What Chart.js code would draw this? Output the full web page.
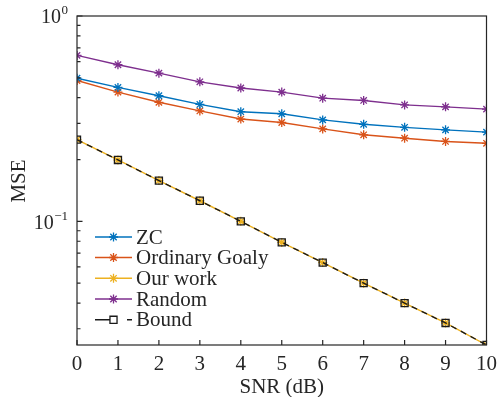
<!DOCTYPE html>
<html>
<head>
<meta charset="utf-8">
<script src="https://cdn.jsdelivr.net/npm/chart.js@4/dist/chart.umd.min.js"></script>
<style>
  body { margin: 0; background: #fff; }
  canvas { display: block; }
</style>
</head>
<body>
<canvas id="mseChart" width="504" height="397"></canvas>
<script>
// ================== Data ==================
const snrDb = [0, 1, 2, 3, 4, 5, 6, 7, 8, 9, 10];
const zcMse = [0.498, 0.449, 0.409, 0.371, 0.342, 0.334, 0.312, 0.297, 0.287, 0.279, 0.272];
const goalyMse = [0.485, 0.426, 0.380, 0.345, 0.315, 0.303, 0.282, 0.264, 0.254, 0.245, 0.240];
const ourMse = [0.250, 0.199, 0.158, 0.126, 0.100, 0.079, 0.063, 0.050, 0.040, 0.032, 0.025];
const randomMse = [0.643, 0.579, 0.527, 0.478, 0.446, 0.426, 0.398, 0.388, 0.369, 0.361, 0.352];
const boundMse = [0.250, 0.199, 0.158, 0.126, 0.100, 0.079, 0.063, 0.050, 0.040, 0.032, 0.025];
const yTicks = [0.03, 0.04, 0.05, 0.06, 0.07, 0.08, 0.09, 0.1, 0.2, 0.3, 0.4, 0.5, 0.6, 0.7, 0.8, 0.9, 1];
const yMajor = [{ v: 1, sup: "0" }, { v: 0.1, sup: "\u22121" }];

const axisColor = "#262626";
const serif = "'Liberation Serif', 'Times New Roman', serif";

function pts(arr) {
  return snrDb.map((x, i) => ({ x: x, y: arr[i] }));
}

function line(label, data, color, extra) {
  return Object.assign({
    label: label,
    data: pts(data),
    borderColor: color,
    backgroundColor: color,
    borderWidth: 1.4,
    pointStyle: "star",
    pointRadius: 4.5,
    pointBorderWidth: 1.3,
    pointBorderColor: color,
    order: 1
  }, extra || {});
}

const datasets = [
  line("ZC", zcMse, "#0072BD"),
  line("Ordinary Goaly", goalyMse, "#D95319"),
  line("Our work", ourMse, "#EDB120"),
  line("Random", randomMse, "#7E2F8E"),
  line("Bound", boundMse, "#1a1a1a", {
    borderDash: [6, 5],
    legendDash: [15, 17, 5, 20],
    pointStyle: "rect",
    pointRadius: 5,
    pointBackgroundColor: "rgba(0,0,0,0)",
    pointBorderColor: "#1a1a1a",
    order: 0
  })
];

// ================== Axes, ticks, legend ==================
const decorations = {
  id: "decorations",
  afterDatasetsDraw(chart) {
    const ctx = chart.ctx;
    const a = chart.chartArea;
    const xs = chart.scales.x;
    const ys = chart.scales.y;
    ctx.save();

    // box
    ctx.strokeStyle = axisColor;
    ctx.lineWidth = 1.2;
    ctx.strokeRect(a.left, a.top, a.right - a.left, a.bottom - a.top);

    // inward ticks
    ctx.beginPath();
    snrDb.forEach(v => {
      const px = xs.getPixelForValue(v);
      ctx.moveTo(px, a.bottom);
      ctx.lineTo(px, a.bottom - 5);
    });
    yTicks.forEach(v => {
      const py = ys.getPixelForValue(v);
      const len = (v === 1 || v === 0.1) ? 5.5 : 3.5;
      ctx.moveTo(a.left, py);
      ctx.lineTo(a.left + len, py);
    });
    ctx.stroke();

    // y labels 10^n
    ctx.fillStyle = axisColor;
    ctx.textBaseline = "middle";
    yMajor.forEach(m => {
      const py = ys.getPixelForValue(m.v);
      ctx.font = "13px " + serif;
      const supW = ctx.measureText(m.sup).width;
      ctx.textAlign = "left";
      ctx.fillText(m.sup, 68 - supW, py - 5);
      ctx.font = "20px " + serif;
      ctx.textAlign = "right";
      ctx.fillText("10", 68 - supW - 0.5, py + 2);
    });

    // axis titles
    ctx.font = "21px " + serif;
    ctx.textAlign = "center";
    ctx.fillText("SNR (dB)", (a.left + a.right) / 2, 387);
    ctx.save();
    ctx.translate(19.5, 181);
    ctx.rotate(-Math.PI / 2);
    ctx.fillText("MSE", 0, 0);
    ctx.restore();

    // legend
    const rowY = [237, 257.5, 278.3, 299, 319.8];
    datasets.forEach((ds, i) => {
      const y = rowY[i];
      ctx.strokeStyle = ds.borderColor;
      ctx.lineWidth = 1.4;
      ctx.setLineDash(ds.legendDash || []);
      ctx.beginPath();
      ctx.moveTo(95, y);
      ctx.lineTo(132, y);
      ctx.stroke();
      ctx.setLineDash([]);
      ctx.strokeStyle = ds.pointBorderColor;
      ctx.fillStyle = ds.pointBackgroundColor || ds.backgroundColor;
      ctx.lineWidth = ds.pointBorderWidth;
      Chart.helpers.drawPoint(ctx, {
        pointStyle: ds.pointStyle,
        radius: ds.pointRadius,
        borderWidth: ds.pointBorderWidth,
        rotation: 0
      }, 113.5, y);
      ctx.fillStyle = axisColor;
      ctx.font = "21px " + serif;
      ctx.textAlign = "left";
      ctx.textBaseline = "middle";
      ctx.fillText(ds.label, 136, y + 1);
    });

    ctx.restore();
  }
};

new Chart(document.getElementById("mseChart").getContext("2d"), {
  type: "line",
  data: { datasets: datasets },
  options: {
    responsive: false,
    animation: false,
    devicePixelRatio: 1,
    layout: { padding: { top: 16, right: 11, left: 0, bottom: 0 } },
    plugins: {
      legend: { display: false },
      tooltip: { enabled: false }
    },
    scales: {
      x: {
        type: "linear",
        min: 0,
        max: 10,
        grid: { display: false, drawTicks: false },
        border: { display: false },
        ticks: {
          stepSize: 1,
          padding: 7,
          color: axisColor,
          font: { family: serif, size: 21 }
        },
        afterFit(scale) { scale.height = 52; }
      },
      y: {
        type: "logarithmic",
        min: 0.025,
        max: 1,
        grid: { display: false, drawTicks: false },
        border: { display: false },
        ticks: { display: false },
        afterBuildTicks(scale) {
          scale.ticks = yTicks.map(v => ({ value: v }));
        },
        afterFit(scale) { scale.width = 77; }
      }
    }
  },
  plugins: [decorations]
});
</script>
</body>
</html>
